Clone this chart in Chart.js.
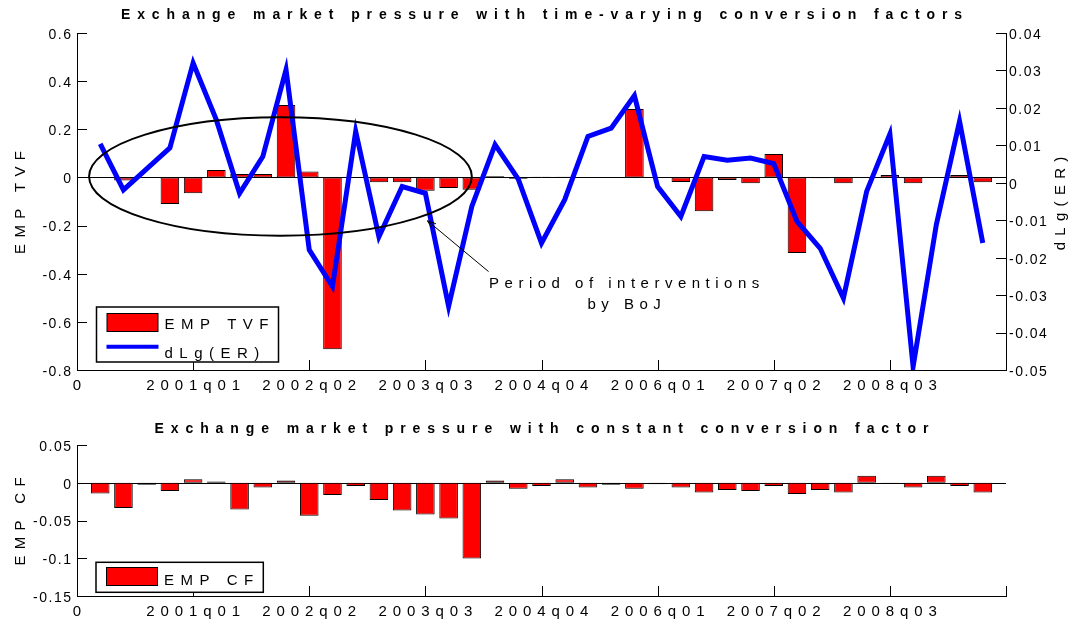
<!DOCTYPE html>
<html>
<head>
<meta charset="utf-8">
<script src="https://cdn.jsdelivr.net/npm/chart.js@4.4.1/dist/chart.umd.min.js"></script>
<style>
  body { margin: 0; background: #fff; }
  canvas { display: block; }
</style>
</head>
<body>
<canvas id="chartTvf" width="1077" height="400"></canvas>
<canvas id="chartCf" width="1077" height="224"></canvas>
<script>
const quarters = [
    "2000q01", "2000q02", "2000q03", "2000q04", "2001q01", "2001q02", "2001q03", "2001q04",
    "2002q01", "2002q02", "2002q03", "2002q04", "2003q01", "2003q02", "2003q03", "2003q04",
    "2004q01", "2004q02", "2004q03", "2004q04", "2005q01", "2005q02", "2005q03", "2005q04",
    "2006q01", "2006q02", "2006q03", "2006q04", "2007q01", "2007q02", "2007q03", "2007q04",
    "2008q01", "2008q02", "2008q03", "2008q04", "2009q01", "2009q02", "2009q03"
];
// labels shown at every 5th position of the x axis (0, 5, ..., 40)
const tickLabels = ["0", "2001q01", "2002q02", "2003q03", "2004q04", "2006q01", "2007q02", "2008q03", ""];

const empTvf = [
    0.002, -0.013, 0.002, -0.110, -0.066, 0.031, 0.014, 0.014, 0.301, 0.025,
    -0.714, 0.002, -0.020, -0.020, -0.055, -0.044, -0.051, 0.005, -0.005, 0.003,
    0.003, 0.001, 0.002, 0.284, 0.001, -0.019, -0.141, -0.011, -0.024, 0.097,
    -0.314, -0.003, -0.024, 0.001, 0.010, -0.024, 0.001, 0.010, -0.020
];
const dlgEr = [
    0.0104, -0.0019, 0.0037, 0.0093, 0.0320, 0.0168, -0.0028, 0.0070, 0.0302, -0.0179,
    -0.0277, 0.0137, -0.0144, -0.0010, -0.0028, -0.0330, -0.0063, 0.0102, 0.0010, -0.0161,
    -0.0045, 0.0124, 0.0146, 0.0233, -0.0010, -0.0090, 0.0070, 0.0060, 0.0066, 0.0051,
    -0.0103, -0.0175, -0.0308, -0.0023, 0.0130, -0.0491, -0.0112, 0.0164, -0.0161
];
const empCf = [
    -0.0141, -0.0336, -0.0027, -0.0110, 0.0045, 0.0018, -0.0354, -0.0062, 0.0030, -0.0438,
    -0.0163, -0.0044, -0.0230, -0.0367, -0.0420, -0.0473, -0.1004, 0.0030, -0.0080, -0.0044,
    0.0045, -0.0062, -0.0027, -0.0080, -0.0020, -0.0062, -0.0128, -0.0097, -0.0110, -0.0044,
    -0.0150, -0.0097, -0.0128, 0.0093, -0.0005, -0.0062, 0.0093, -0.0044, -0.0128
];

const FONT = '"Liberation Sans", Arial, Helvetica, sans-serif';
Chart.defaults.font.family = FONT;
Chart.defaults.color = "#000";

// x positions 1..39 hold the quarters, 0 and 40 are the empty ends of the axis
const xLabels = ["", ...quarters, ""];
const withEnds = arr => [null, ...arr, null];

function drawText(ctx, text, x, y, o) {
    ctx.save();
    ctx.font = (o.bold ? "bold " : "") + o.size + "px " + FONT;
    ctx.letterSpacing = o.spacing + "px";
    ctx.fillStyle = "#000";
    ctx.textBaseline = "alphabetic";
    ctx.textAlign = o.align || "left";
    ctx.translate(x, y);
    if (o.rotate) ctx.rotate(o.rotate);
    ctx.fillText(text, o.align === "center" ? o.spacing / 2 : 0, 0);
    ctx.restore();
}

// the picture uses letter-spaced text, Chart.js has no option for it
function spaceLabels(scale, spacing, shift) {
    if (scale._spaced) return;
    const orig = scale.drawLabels;
    scale.drawLabels = function (area) {
        const ctx = this.ctx;
        ctx.save();
        ctx.letterSpacing = spacing + "px";
        ctx.translate(shift, 0);
        orig.call(this, area);
        ctx.restore();
    };
    scale._spaced = true;
}

const decor = {
    id: "decor",
    beforeDraw(chart) {
        spaceLabels(chart.scales.x, 5.9, 2.95);
        spaceLabels(chart.scales.y, 1.5, 1.5);
        if (chart.scales.y1) spaceLabels(chart.scales.y1, 1.5, 0);
    },
    beforeDatasetsDraw(chart) {
        const ctx = chart.ctx, a = chart.chartArea;
        const y0 = Math.round(chart.scales.y.getPixelForValue(0)) + 0.5;
        ctx.save();
        ctx.strokeStyle = "#000";
        ctx.lineWidth = 1;
        ctx.beginPath();
        ctx.moveTo(a.left, y0);
        ctx.lineTo(a.right, y0);
        ctx.stroke();
        ctx.restore();
    },
    afterDraw(chart, args, opts) {
        const ctx = chart.ctx, a = chart.chartArea;
        const xs = chart.scales.x, ys = chart.scales.y, y1 = chart.scales.y1;

        // tick marks point into the axes
        ctx.save();
        ctx.strokeStyle = "#000";
        ctx.lineWidth = 1;
        ctx.beginPath();
        for (let i = 0; i < xs.ticks.length; i += 5) {
            const px = Math.round(xs.getPixelForTick(i)) + 0.5;
            ctx.moveTo(px, a.bottom);
            ctx.lineTo(px, a.bottom - 10);
        }
        ys.ticks.forEach((t, i) => {
            const py = Math.round(ys.getPixelForTick(i)) + 0.5;
            ctx.moveTo(a.left, py);
            ctx.lineTo(a.left + 10, py);
        });
        if (y1) {
            y1.ticks.forEach((t, i) => {
                const py = Math.round(y1.getPixelForTick(i)) + 0.5;
                ctx.moveTo(a.right, py);
                ctx.lineTo(a.right - 10, py);
            });
        }
        ctx.stroke();
        ctx.restore();

        const midY = (a.top + a.bottom) / 2;
        drawText(ctx, opts.title, (a.left + a.right) / 2, opts.titleY, { size: 14, bold: true, spacing: 6.9, align: "center" });
        drawText(ctx, opts.yTitle, 25, midY + 1, { size: 15, spacing: 6.3, align: "center", rotate: -Math.PI / 2 });
        if (opts.y1Title) {
            drawText(ctx, opts.y1Title, 1065, midY + 2, { size: 15, spacing: 6.3, align: "center", rotate: -Math.PI / 2 });
        }

        // legend box
        const L = opts.legend;
        ctx.save();
        ctx.fillStyle = "#fff";
        ctx.fillRect(L.x, L.y, L.w, L.h);
        ctx.strokeStyle = "#000";
        ctx.lineWidth = 1.5;
        ctx.strokeRect(L.x, L.y, L.w, L.h);
        chart.data.datasets.forEach((ds, i) => {
            const row = L.rows[i];
            if (ds.type === "line") {
                ctx.strokeStyle = ds.borderColor;
                ctx.lineWidth = 4;
                ctx.beginPath();
                ctx.moveTo(L.x + 10, row.mark);
                ctx.lineTo(L.x + 62, row.mark);
                ctx.stroke();
            } else {
                ctx.fillStyle = ds.backgroundColor;
                ctx.fillRect(L.x + 10.5, row.mark - 9, 51, 18);
                ctx.strokeStyle = "#000";
                ctx.lineWidth = 1;
                ctx.strokeRect(L.x + 10.5, row.mark - 9, 51, 18);
            }
            drawText(ctx, ds.label, L.x + 68, row.text, { size: 15, spacing: 6.5 });
        });
        ctx.restore();
    }
};

// annotation of the top panel, in axis units (x position, left-axis value)
const bojEllipse = { x: 8.76, y: 0.004, rx: 8.24, ry: 0.246 };
const bojArrow = { x0: 17.72, y0: -0.391, x1: 15.09, y1: -0.18 };
const bojText = { x: 23.56, lines: ["Period of interventions", "by BoJ"], ys: [-0.46, -0.545] };

const interventions = {
    id: "interventions",
    afterDraw(chart) {
        const ctx = chart.ctx, xs = chart.scales.x, ys = chart.scales.y;
        const cx = xs.getPixelForValue(bojEllipse.x), cy = ys.getPixelForValue(bojEllipse.y);
        const rx = xs.getPixelForValue(bojEllipse.x + bojEllipse.rx) - cx;
        const ry = cy - ys.getPixelForValue(bojEllipse.y + bojEllipse.ry);
        ctx.save();
        ctx.strokeStyle = "#000";
        ctx.lineWidth = 2;
        ctx.beginPath();
        ctx.ellipse(cx, cy, rx, ry, 0, 0, Math.PI * 2);
        ctx.stroke();

        const fx = xs.getPixelForValue(bojArrow.x0), fy = ys.getPixelForValue(bojArrow.y0);
        const tx = xs.getPixelForValue(bojArrow.x1), ty = ys.getPixelForValue(bojArrow.y1);
        const ang = Math.atan2(ty - fy, tx - fx);
        ctx.lineWidth = 1;
        ctx.beginPath();
        ctx.moveTo(fx, fy);
        ctx.lineTo(tx, ty);
        ctx.moveTo(tx - 9 * Math.cos(ang - 0.35), ty - 9 * Math.sin(ang - 0.35));
        ctx.lineTo(tx, ty);
        ctx.lineTo(tx - 9 * Math.cos(ang + 0.35), ty - 9 * Math.sin(ang + 0.35));
        ctx.stroke();
        ctx.restore();

        const px = xs.getPixelForValue(bojText.x);
        bojText.lines.forEach((t, i) => {
            drawText(ctx, t, px, ys.getPixelForValue(bojText.ys[i]), { size: 15, spacing: 5.5, align: "center" });
        });
    }
};

function xAxis(height) {
    return {
        type: "category",
        offset: false,
        grid: { display: false, offset: false, drawTicks: false },
        border: { display: true, color: "#000", width: 1 },
        ticks: {
            autoSkip: false, maxRotation: 0, minRotation: 0, padding: 7,
            font: { size: 15 },
            callback: (v, i) => (i % 5 === 0 ? tickLabels[i / 5] : "")
        },
        afterFit: s => { s.height = height; }
    };
}

function yAxis(pos, min, max, step, digits, width) {
    return {
        position: pos,
        min: min, max: max,
        grid: { display: false, drawTicks: false },
        border: { display: true, color: "#000", width: 1 },
        ticks: {
            stepSize: step, padding: pos === "left" ? 6 : 3, labelOffset: 2,
            font: { size: 14 },
            callback: v => (Math.abs(v) < 1e-9 ? "0" : String(+v.toFixed(digits)))
        },
        afterFit: s => { s.width = width; }
    };
}

const barStyle = {
    type: "bar",
    backgroundColor: "#ff0000",
    borderColor: "#000",
    borderWidth: 1,
    borderSkipped: false,
    barPercentage: 0.8,
    categoryPercentage: 1.0
};

new Chart(document.getElementById("chartTvf"), {
    type: "bar",
    data: {
        labels: xLabels,
        datasets: [
            Object.assign({ label: "EMP TVF", data: withEnds(empTvf), yAxisID: "y", order: 2 }, barStyle),
            {
                type: "line", label: "dLg(ER)", data: withEnds(dlgEr), yAxisID: "y1", order: 1,
                borderColor: "#0000ff", borderWidth: 5, pointRadius: 0, tension: 0, fill: false
            }
        ]
    },
    options: {
        responsive: false,
        animation: false,
        layout: { padding: { top: 33, left: 0, right: 0, bottom: 0 } },
        plugins: {
            legend: { display: false },
            tooltip: { enabled: false },
            decor: {
                title: "Exchange market pressure with time-varying conversion factors",
                titleY: 19.3,
                yTitle: "EMP TVF",
                y1Title: "dLg(ER)",
                legend: { x: 96.5, y: 307, w: 182, h: 55, rows: [{ mark: 322.5, text: 329.3 }, { mark: 346.7, text: 357.5 }] }
            }
        },
        scales: {
            x: xAxis(30),
            y: yAxis("left", -0.8, 0.6, 0.2, 1, 77),
            y1: yAxis("right", -0.05, 0.04, 0.01, 2, 71)
        }
    },
    plugins: [decor, interventions]
});

new Chart(document.getElementById("chartCf"), {
    type: "bar",
    data: {
        labels: xLabels,
        datasets: [
            Object.assign({ label: "EMP CF", data: withEnds(empCf), yAxisID: "y" }, barStyle)
        ]
    },
    options: {
        responsive: false,
        animation: false,
        layout: { padding: { top: 45, left: 0, right: 71, bottom: 0 } },
        plugins: {
            legend: { display: false },
            tooltip: { enabled: false },
            decor: {
                title: "Exchange market pressure with constant conversion factor",
                titleY: 33.3,
                yTitle: "EMP CF",
                legend: { x: 96, y: 162.3, w: 167.3, h: 30, rows: [{ mark: 176.5, text: 184.5 }] }
            }
        },
        scales: {
            x: xAxis(28),
            y: yAxis("left", -0.15, 0.05, 0.05, 2, 77)
        }
    },
    plugins: [decor]
});
</script>
</body>
</html>
